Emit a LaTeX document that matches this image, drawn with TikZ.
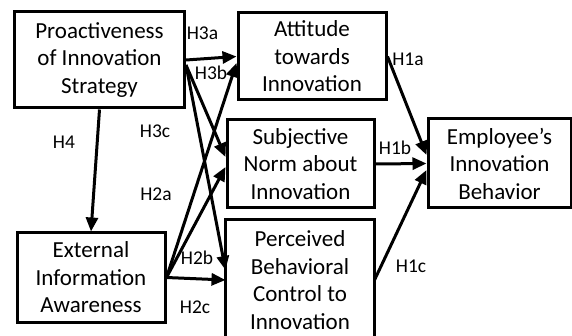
\documentclass[tikz,border=0pt]{standalone}
\usepackage{fontspec}
\setmainfont{Carlito}
\usetikzlibrary{arrows.meta}

\begin{document}
\begin{tikzpicture}[x=1pt,y=-1pt,
  construct/.style={draw,line width=3pt,align=center,inner sep=0pt,font=\fontsize{23}{27.5}\selectfont},
  link/.style={line width=3pt,-{Triangle[length=14pt,width=12pt]}},
  hyp/.style={font=\fontsize{19.5}{22}\selectfont}]
  \useasboundingbox (0,0) rectangle (572,336);
  % constructs
  \node[construct,minimum width=170,minimum height=96] (pro) at (99.5,60) {Proactiveness\\of Innovation\\Strategy};
  \node[construct,minimum width=148,minimum height=87] (att) at (312,56.5) {Attitude\\towards\\Innovation};
  \node[construct,minimum width=147,minimum height=88] (sub) at (300.5,164) {Subjective\\Norm about\\Innovation};
  \node[construct,draw=none,minimum width=146,minimum height=118] (pbc) at (300,280) {Perceived\\Behavioral\\Control to\\Innovation};
  \draw[line width=3pt] (pbc.south west) -- (pbc.north west) -- (pbc.north east) -- (pbc.south east);
  \node[construct,minimum width=148,minimum height=89] (ext) at (91,277.5) {External\\Information\\Awareness};
  \node[construct,minimum width=143,minimum height=89] (beh) at (499.5,163.5) {Employee’s\\Innovation\\Behavior};
  % paths
  \draw[link] (pro.south) -- (ext.north);
  \draw[link] (pro.east) -- (att.west);
  \draw[link] ([yshift=-5pt]pro.east) -- ([yshift=7pt]sub.west);
  \draw[link] ([yshift=-5pt]pro.east) -- ([yshift=10pt]pbc.west);
  \draw[link] (ext.east) -- ([yshift=-6.5pt]att.west);
  \draw[link] (ext.east) -- ([yshift=-3pt]sub.west);
  \draw[link] (ext.east) -- (pbc.west);
  \draw[link] (att.east) -- ([yshift=8.5pt]beh.west);
  \draw[link] (sub.east) -- (beh.west);
  \draw[link] (pbc.east) -- ([yshift=-6.5pt]beh.west);
  % hypotheses
  \node[hyp] (h3a) at (202.5,33) {H3a};
  \node[hyp] (h3b) at (211,73) {H3b};
  \node[hyp] (h3c) at (155,131) {H3c};
  \node[hyp] (h4) at (64,142) {H4};
  \node[hyp] (h2a) at (156,194) {H2a};
  \node[hyp] (h2b) at (197,258) {H2b};
  \node[hyp] (h2c) at (195,307) {H2c};
  \node[hyp] (h1a) at (408,59) {H1a};
  \node[hyp] (h1b) at (395,148) {H1b};
  \node[hyp] (h1c) at (411,266) {H1c};
\end{tikzpicture}
\end{document}
